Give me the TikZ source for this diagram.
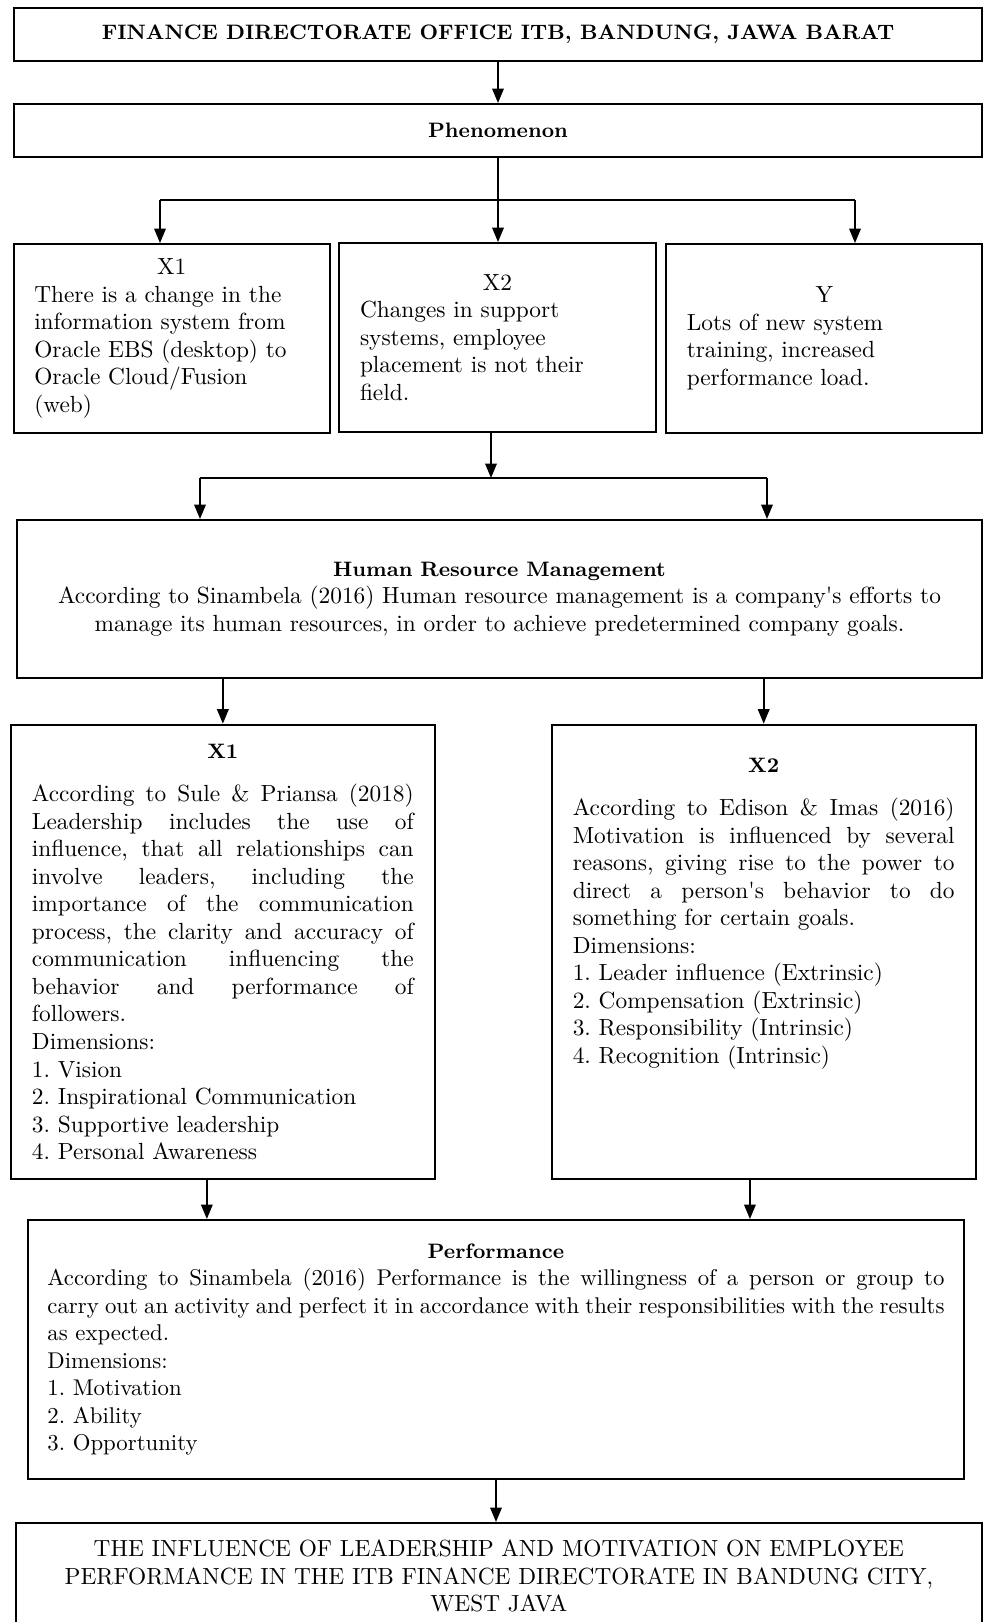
\documentclass[tikz,border=0pt]{standalone}
\usetikzlibrary{arrows.meta}
\newcommand{\jline}[1]{\makebox[\linewidth][s]{\spaceskip=0pt\xspaceskip=0pt #1}\\}
\newcommand{\ctitle}[2][0pt]{\makebox[\linewidth]{#2}\\[#1]}
\newcommand{\hd}[1]{{\fontsize{9.4}{12.4}\selectfont\bfseries #1}}
\frenchspacing

\begin{document}
\begin{tikzpicture}[x=0.45pt,y=-0.45pt,line width=0.75pt,
    >={Triangle[length=6.5pt,width=5.2pt]},
    every node/.style={draw,line width=0.9pt,inner sep=0pt,
      font=\fontsize{10.5}{12.4}\selectfont}]
  \useasboundingbox (0,0) rectangle (984,1622);

  \node[minimum width=435.6pt,minimum height=23.85pt] (fin) at (498,34.5)
    {\hd{FINANCE DIRECTORATE OFFICE ITB, BANDUNG, JAWA BARAT}};
  \node[minimum width=435.6pt,minimum height=23.85pt] (phen) at (498,130.5)
    {\hd{Phenomenon}};

  \node[minimum width=142pt,minimum height=85pt,text width=123.75pt,
    align=left] (sx1) at (171.75,338.5)
    {\ctitle{X1}There is a change in the\\information system from\\
     Oracle EBS (desktop) to\\Oracle Cloud/Fusion\\(web)};
  \node[minimum width=142.65pt,minimum height=85pt,text width=123.75pt,
    align=left] (sx2) at (497.5,337.5)
    {\ctitle{X2}Changes in support\\systems, employee\\
     placement is not their\\field.};
  \node[minimum width=142pt,minimum height=85pt,text width=123.75pt,
    align=left] (sy) at (824.25,338.5)
    {\ctitle{Y}Lots of new system\\training, increased\\performance load.};

  \node[minimum width=434.25pt,minimum height=71.1pt,text width=425pt,
    align=center] (hrm) at (499.5,599)
    {\hd{Human Resource Management}\\
     According to Sinambela (2016) Human resource management is a company\textquotesingle s efforts to\\
     manage its human resources, in order to achieve predetermined company goals.};

  \node[minimum width=190.9pt,minimum height=204.6pt,text width=171.8pt,
    align=left] (bx1) at (222.85,952)
    {\ctitle[7pt]{\hd{X1}}%
     \jline{According to Sule \& Priansa (2018)}%
     \jline{Leadership includes the use of}%
     \jline{influence, that all relationships can}%
     \jline{involve leaders, including the}%
     \jline{importance of the communication}%
     \jline{process, the clarity and accuracy of}%
     \jline{communication influencing the}%
     \jline{behavior and performance of}%
     followers.\\Dimensions:\\1. Vision\\2. Inspirational Communication\\
     3. Supportive leadership\\4. Personal Awareness};
  \node[minimum width=190.8pt,minimum height=204.6pt,text width=171.8pt,
    align=left] (bx2) at (763.7,952)
    {\ctitle[7pt]{\hd{X2}}%
     \jline{According to Edison \& Imas (2016)}%
     \jline{Motivation is influenced by several}%
     \jline{reasons, giving rise to the power to}%
     \jline{direct a person\textquotesingle s behavior to do}%
     something for certain goals.\\Dimensions:\\
     1. Leader influence (Extrinsic)\\2. Compensation (Extrinsic)\\
     3. Responsibility (Intrinsic)\\4. Recognition (Intrinsic)\\[24.7pt]\mbox{}};

  \node[minimum width=421.2pt,minimum height=116.55pt,text width=403.65pt,
    align=left,font=\fontsize{10.25}{12.4}\selectfont] (perf) at (496,1349.5)
    {\ctitle{\hd{Performance}}%
     \jline{According to Sinambela (2016) Performance is the willingness of a person or group to}%
     \jline{carry out an activity and perfect it in accordance with their responsibilities with the results}%
     as expected.\\Dimensions:\\1. Motivation\\2. Ability\\3. Opportunity};

  \node[minimum width=434.8pt,minimum height=47.9pt,text width=430pt,
    align=center] (fnl) at (498.85,1576.2)
    {THE INFLUENCE OF LEADERSHIP AND MOTIVATION ON EMPLOYEE\\
     PERFORMANCE IN THE ITB FINANCE DIRECTORATE IN BANDUNG CITY,\\
     WEST JAVA};

  \coordinate (t1) at (160,200);
  \coordinate (t2) at (855,200);
  \coordinate (m0) at (491,478);
  \coordinate (m1) at (200,478);
  \coordinate (m2) at (767,478);

  \draw[->] (fin) -- (phen);
  \draw[->] (phen.south) -- (phen.south |- sx2.north);
  \draw (t1) -- (t2);
  \draw[->] (t1) -- (t1 |- sx1.north);
  \draw[->] (t2) -- (t2 |- sy.north);

  \draw[->] (m0 |- sx2.south) -- (m0);
  \draw (m1) -- (m2);
  \draw[->] (m1) -- (m1 |- hrm.north);
  \draw[->] (m2) -- (m2 |- hrm.north);

  \draw[->] (bx1 |- hrm.south) -- (bx1);
  \draw[->] (bx2 |- hrm.south) -- (bx2);
  \draw[->] ([xshift=-7.2pt]bx1.south) -- ([xshift=-7.2pt]bx1.south |- perf.north);
  \draw[->] ([xshift=-6.2pt]bx2.south) -- ([xshift=-6.2pt]bx2.south |- perf.north);
  \draw[->] (perf.south) -- (perf.south |- fnl.north);
\end{tikzpicture}
\end{document}
